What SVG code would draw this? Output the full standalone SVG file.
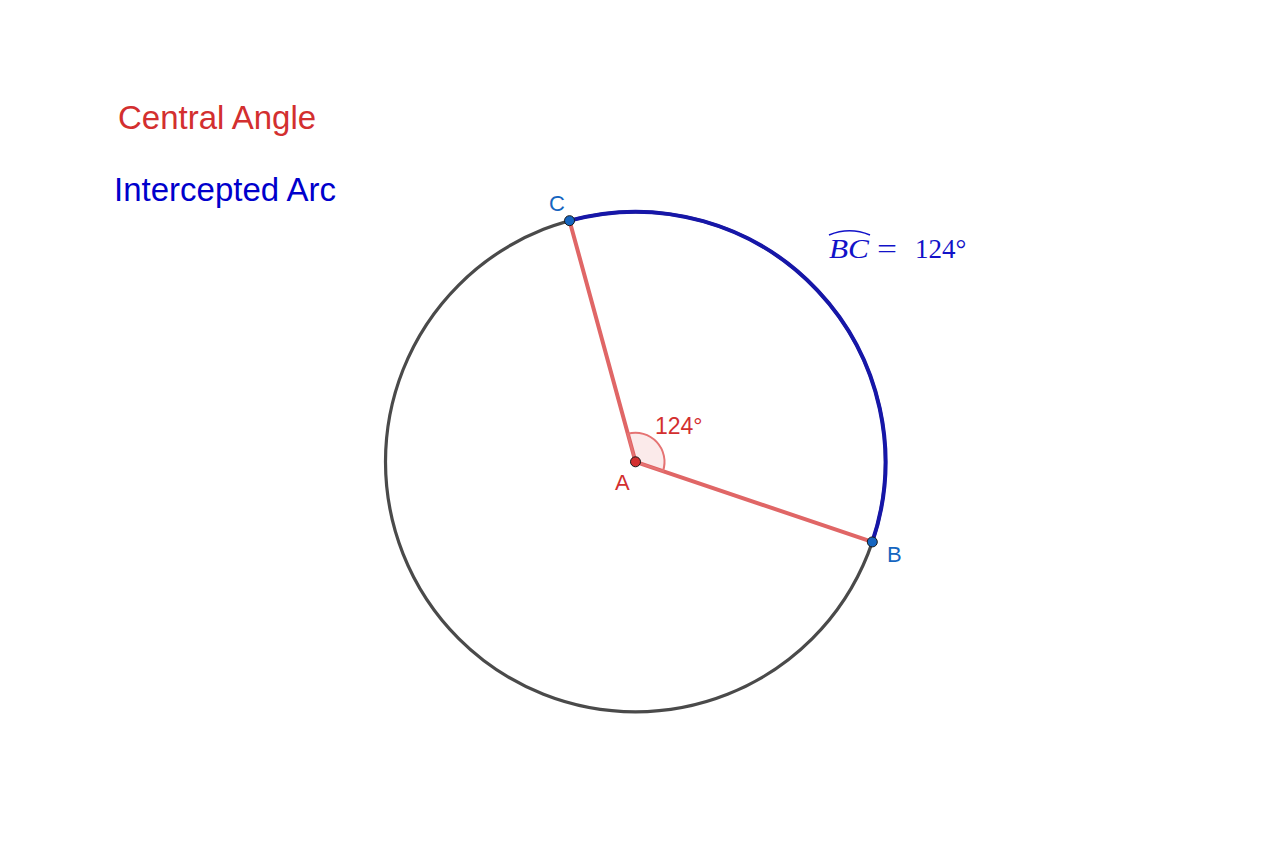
<svg xmlns="http://www.w3.org/2000/svg" width="1280" height="854" viewBox="0 0 1280 854">
<style>
.lbl{font-family:"Liberation Sans",Arial,sans-serif;}
.pt{stroke:#1a1a1a;stroke-width:1;}
.seg{stroke:#e06666;stroke-width:4;stroke-linecap:round;fill:none;}
.tex{font-family:"Liberation Serif","Times New Roman",serif;fill:#1212c8;font-size:27px;}
</style>
<rect width="1280" height="854" fill="#ffffff"/>
<g id="title-central">
<text class="lbl" x="118" y="129" font-size="33" fill="#d32f2f">Central Angle</text>
</g>
<g id="title-arc">
<text class="lbl" x="114" y="201" font-size="33" fill="#0000cc">Intercepted Arc</text>
</g>
<g id="circle">
<circle cx="635.5" cy="461.8" r="250" fill="none" stroke="#4a4a4a" stroke-width="3.2"/>
</g>
<g id="connectors">
<path id="arc-BC" d="M 872.3 541.95 A 250 250 0 0 0 569.53 220.66" fill="none" stroke="#1616a8" stroke-width="4"/>
<line class="seg" x1="635.5" y1="461.8" x2="569.53" y2="220.66"/>
<line class="seg" x1="635.5" y1="461.8" x2="872.3" y2="541.95"/>
</g>
<g id="angle">
<path d="M 635.5 461.8 L 662.97 471.1 A 29 29 0 0 0 627.85 433.83 Z" fill="#d32f2f" fill-opacity="0.1" stroke="#e57373" stroke-width="2"/>
<text class="lbl" x="655" y="434" font-size="23" fill="#d32f2f">124°</text>
</g>
<g id="arc-label">
<text class="tex" x="829" y="257.5" font-style="italic" textLength="40" lengthAdjust="spacingAndGlyphs">BC</text>
<path d="M 829 235 Q 849.5 226.5 870 235" fill="none" stroke="#1212c8" stroke-width="1.6"/>
<text class="tex" x="877" y="257.5" textLength="20" lengthAdjust="spacingAndGlyphs">=</text>
<text class="tex" x="915" y="257.5">124°</text>
</g>
<g id="point-A">
<circle class="pt" cx="635.5" cy="461.8" r="5" fill="#d32f2f"/>
<text class="lbl" x="615" y="490" font-size="22" fill="#d32f2f">A</text>
</g>
<g id="point-B">
<circle class="pt" cx="872.3" cy="541.95" r="5" fill="#1565c0"/>
<text class="lbl" x="887" y="562" font-size="22" fill="#1565c0">B</text>
</g>
<g id="point-C">
<circle class="pt" cx="569.53" cy="220.66" r="5" fill="#1565c0"/>
<text class="lbl" x="549" y="211" font-size="22" fill="#1565c0">C</text>
</g>
</svg>
